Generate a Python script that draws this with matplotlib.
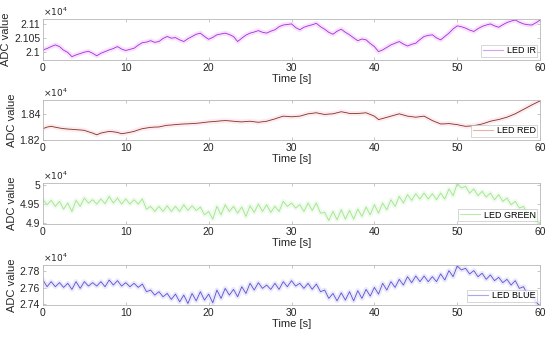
import numpy as np
import matplotlib
matplotlib.use('Agg')
import matplotlib.pyplot as plt
from matplotlib.lines import Line2D
from matplotlib.ticker import FuncFormatter

plt.rcParams['font.family'] = ['Liberation Sans', 'DejaVu Sans']

# sample times (0.5 s steps, 0..60 s)
time_s = np.arange(121) * 0.5

led_ir = [21007, 21012, 21019, 21025, 21019, 21006, 20998, 20983, 20989, 20994,
          20999, 21002, 20995, 20986, 20995, 21001, 21007, 21012, 21019, 21010,
          21005, 21009, 21013, 21024, 21033, 21035, 21040, 21034, 21037, 21048,
          21055, 21049, 21051, 21043, 21037, 21047, 21055, 21063, 21067, 21055,
          21045, 21052, 21061, 21064, 21067, 21062, 21055, 21037, 21049, 21060,
          21067, 21071, 21076, 21070, 21067, 21074, 21079, 21090, 21096, 21098,
          21100, 21087, 21079, 21088, 21093, 21097, 21102, 21090, 21081, 21070,
          21063, 21074, 21081, 21070, 21061, 21050, 21040, 21046, 21043, 21030,
          21019, 21001, 21007, 21016, 21025, 21031, 21037, 21028, 21021, 21027,
          21031, 21044, 21055, 21059, 21061, 21050, 21043, 21055, 21067, 21082,
          21093, 21090, 21085, 21078, 21073, 21083, 21091, 21096, 21100, 21093,
          21088, 21097, 21105, 21110, 21114, 21106, 21100, 21097, 21096, 21104,
          21114]

led_red = [18286, 18298, 18304, 18297, 18291, 18286, 18283, 18281, 18278, 18276,
           18273, 18262, 18252, 18239, 18252, 18259, 18265, 18262, 18257, 18247,
           18252, 18258, 18265, 18276, 18286, 18291, 18296, 18298, 18299, 18306,
           18312, 18314, 18317, 18320, 18322, 18323, 18325, 18327, 18330, 18334,
           18338, 18340, 18343, 18346, 18348, 18346, 18343, 18340, 18338, 18341,
           18343, 18339, 18335, 18339, 18343, 18352, 18361, 18372, 18382, 18380,
           18377, 18380, 18382, 18391, 18400, 18404, 18408, 18401, 18395, 18398,
           18400, 18408, 18416, 18410, 18403, 18403, 18403, 18405, 18408, 18395,
           18382, 18356, 18364, 18373, 18382, 18391, 18400, 18391, 18382, 18378,
           18374, 18378, 18382, 18365, 18348, 18335, 18322, 18323, 18325, 18321,
           18317, 18310, 18304, 18306, 18309, 18315, 18322, 18332, 18343, 18350,
           18356, 18365, 18374, 18387, 18400, 18417, 18434, 18451, 18468, 18484,
           18499]

led_green = [49614, 49483, 49597, 49439, 49570, 49368, 49526, 49307, 49597, 49439,
             49658, 49526, 49614, 49500, 49632, 49510, 49702, 49526, 49658, 49500,
             49632, 49500, 49614, 49500, 49632, 49368, 49439, 49307, 49439, 49307,
             49456, 49307, 49439, 49307, 49483, 49333, 49456, 49333, 49421, 49219,
             49307, 49105, 49439, 49219, 49483, 49307, 49439, 49263, 49421, 49176,
             49456, 49281, 49500, 49307, 49483, 49281, 49439, 49307, 49570, 49439,
             49526, 49395, 49483, 49307, 49526, 49333, 49526, 49263, 49281, 49070,
             49307, 49088, 49351, 49105, 49333, 49105, 49368, 49176, 49421, 49219,
             49483, 49263, 49526, 49351, 49614, 49439, 49702, 49526, 49746, 49597,
             49772, 49632, 49789, 49632, 49772, 49614, 49789, 49632, 49895, 49719,
             50035, 49921, 49965, 49789, 49895, 49719, 49833, 49684, 49789, 49614,
             49746, 49570, 49658, 49483, 49570, 49395, 49439, 49176, 49219, 49044,
             49018]

led_blue = [27691, 27610, 27671, 27610, 27659, 27602, 27651, 27578, 27671, 27590,
            27671, 27618, 27659, 27618, 27671, 27610, 27691, 27630, 27683, 27618,
            27659, 27610, 27651, 27602, 27642, 27550, 27570, 27509, 27550, 27489,
            27529, 27457, 27521, 27428, 27509, 27408, 27529, 27440, 27550, 27449,
            27521, 27416, 27570, 27469, 27590, 27509, 27578, 27489, 27610, 27529,
            27651, 27570, 27659, 27590, 27630, 27578, 27651, 27578, 27671, 27610,
            27683, 27618, 27651, 27590, 27651, 27578, 27642, 27550, 27570, 27469,
            27529, 27440, 27537, 27449, 27550, 27440, 27562, 27469, 27578, 27497,
            27602, 27521, 27651, 27570, 27671, 27602, 27699, 27630, 27731, 27659,
            27739, 27671, 27739, 27671, 27731, 27671, 27764, 27691, 27804, 27731,
            27861, 27812, 27832, 27764, 27804, 27731, 27772, 27699, 27752, 27683,
            27723, 27659, 27699, 27630, 27683, 27590, 27610, 27509, 27529, 27428,
            27376]

series = [led_ir, led_red, led_green, led_blue]
labels = ['LED IR', 'LED RED', 'LED GREEN', 'LED BLUE']
line_colors = ['#9b2fe3', '#7e3418', '#9fe48a', '#5a4fd6']
halo_colors = ['#f6c4f6', '#fad4e4', '#e0f8da', '#d4d4f6']
legend_colors = ['#d9a0f0', '#eab0a8', '#b8eca8', '#a8a8f0']
ylims = [(20971, 21118), (18200, 18508), (48975, 50052), (27390, 27873)]
yticks = [[21000, 21050, 21100], [18200, 18400], [49000, 49500, 50000],
          [27400, 27600, 27800]]

# axes rectangles in figure fraction
rects = [(0.078, 0.822, 0.904, 0.122),
         (0.078, 0.585, 0.904, 0.119),
         (0.078, 0.335, 0.904, 0.122),
         (0.078, 0.095, 0.904, 0.119)]

fig = plt.figure(figsize=(5.5, 3.37), dpi=100)

for i in range(4):
    ax = fig.add_axes(rects[i])
    ax.plot(time_s, series[i], color=halo_colors[i], lw=3.5, alpha=0.5,
            solid_joinstyle='round')
    ax.plot(time_s, series[i], color=line_colors[i], lw=0.6)
    ax.set_xlim(0, 60)
    ax.set_ylim(*ylims[i])
    ax.set_xticks(range(0, 61, 10))
    ax.set_yticks(yticks[i])
    ax.yaxis.set_major_formatter(FuncFormatter(lambda v, p: '%g' % (v / 1e4)))
    ax.tick_params(direction='in', top=True, right=True, length=2.5,
                   width=0.5, colors='#b0b0b0', labelcolor='#262626',
                   labelsize=7.5, pad=2)
    for sp in ax.spines.values():
        sp.set_color('#b8b8b8')
        sp.set_linewidth(0.6)
    ax.set_xlabel('Time [s]', fontsize=8, color='#262626', labelpad=1)
    ax.set_ylabel('ADC value', fontsize=8, color='#262626', labelpad=2)
    ax.text(0.0, 1.02, r'$\times10^{4}$', transform=ax.transAxes,
            fontsize=6.5, color='#262626', va='bottom', ha='left')
    h = Line2D([0], [0], color=legend_colors[i], lw=0.8)
    leg = ax.legend([h], [labels[i]], loc='lower right', fontsize=6.5,
                    frameon=True, fancybox=False, edgecolor='#b8b8b8',
                    handlelength=2.2, handletextpad=0.4, borderpad=0.2,
                    borderaxespad=0.3)
    leg.get_frame().set_linewidth(0.5)

fig.savefig('out.png', dpi=100)
